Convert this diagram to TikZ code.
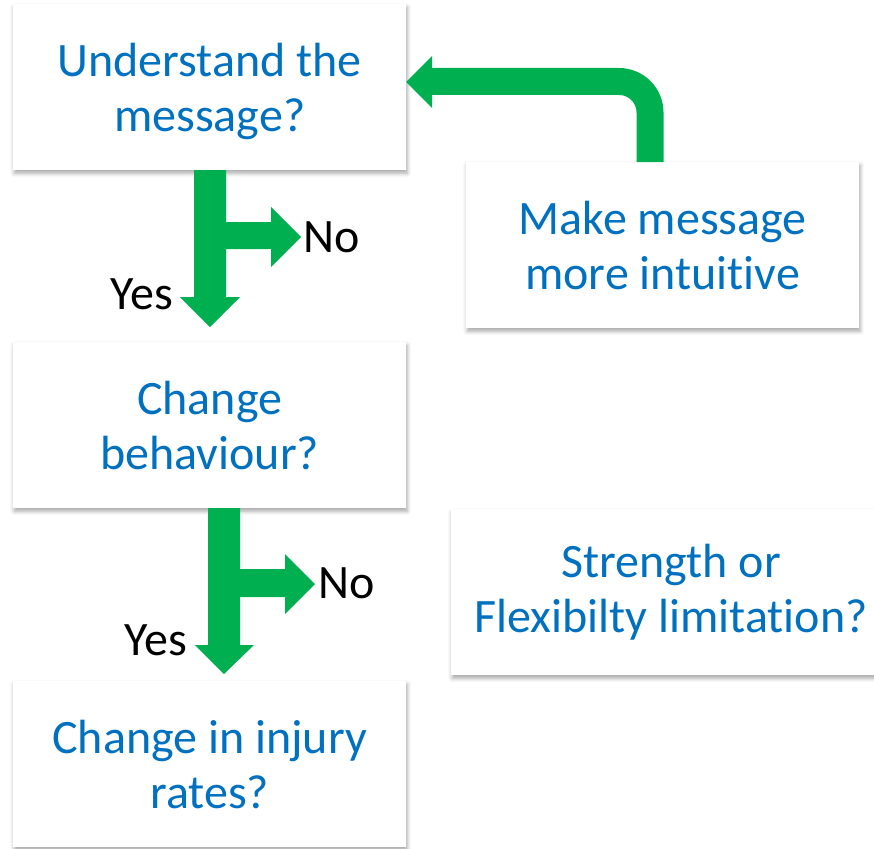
\documentclass[tikz,border=0pt]{standalone}
\usepackage{fontspec}
\setmainfont{Carlito}[Ligatures={NoCommon}]
\usetikzlibrary{shadows.blur}
\definecolor{msgblue}{HTML}{0070C0}
\definecolor{arrowgreen}{HTML}{00B050}
\begin{document}
\begin{tikzpicture}[x=1pt,y=-1pt,
  boxtext/.style={inner sep=0pt, text=msgblue, align=center,
    font=\fontsize{48}{55}\selectfont},
  box/.style={boxtext, fill=white, draw=none, minimum width=393pt,
    minimum height=166pt,
    blur shadow={shadow xshift=1pt, shadow yshift=-3pt,
      shadow blur radius=4pt, shadow opacity=35}},
  answer/.style={font=\fontsize{48}{56}\selectfont, text=black, inner sep=0pt},
  blockarrow/.style={fill=arrowgreen, draw=none}]
\useasboundingbox (0,0) rectangle (874,848);
\begin{scope}
\clip (0,0) rectangle (874,848);
% question boxes
\node[box, anchor=north west] (understand) at (13,4) {};
\node[boxtext] (understandtext) at ([yshift=-4pt]understand.center)
  {Understand the\\message?};
\node[box, anchor=north west] (behaviour) at (13,342) {Change\\behaviour?};
\node[box, anchor=north west] (injury) at (13,681) {Change in injury\\rates?};
\node[box, anchor=north west] (intuitive) at (466,162) {Make message\\more intuitive};
\node[box, anchor=north west, minimum width=440pt] (limitation) at (451,509)
  {Strength or\\Flexibilty limitation?};

% T-shaped yes/no arrow below the first question
\fill[blockarrow] (194,170) -- (226,170) -- (226,222) -- (271,222) -- (271,207)
  -- (301,237) -- (271,267) -- (271,249) -- (226,249) -- (226,297) -- (240,297)
  -- (210,327) -- (180,297) -- (194,297) -- cycle;
\node[answer, anchor=base west] (no1) at (303,252) {No};
\node[answer, anchor=base east] (yes1) at (173,309) {Yes};

% T-shaped yes/no arrow below the second question
\fill[blockarrow] (208,508) -- (240,508) -- (240,569) -- (285,569) -- (285,554)
  -- (315,584) -- (285,614) -- (285,597) -- (240,597) -- (240,645) -- (254,645)
  -- (224,674) -- (195,645) -- (208,645) -- cycle;
\node[answer, anchor=base west] (no2) at (318,598) {No};
\node[answer, anchor=base east] (yes2) at (187,655) {Yes};

% feedback loop back to the first question
\coordinate (loopend) at (431,81.5);
\draw[arrowgreen, line width=27pt, rounded corners=31pt]
  (intuitive.north -| 650,0) -- (650,81.5) -- (loopend);
\fill[blockarrow] (432,56) -- (432,108) -- (406,82) -- cycle;
\end{scope}
\end{tikzpicture}
\end{document}
